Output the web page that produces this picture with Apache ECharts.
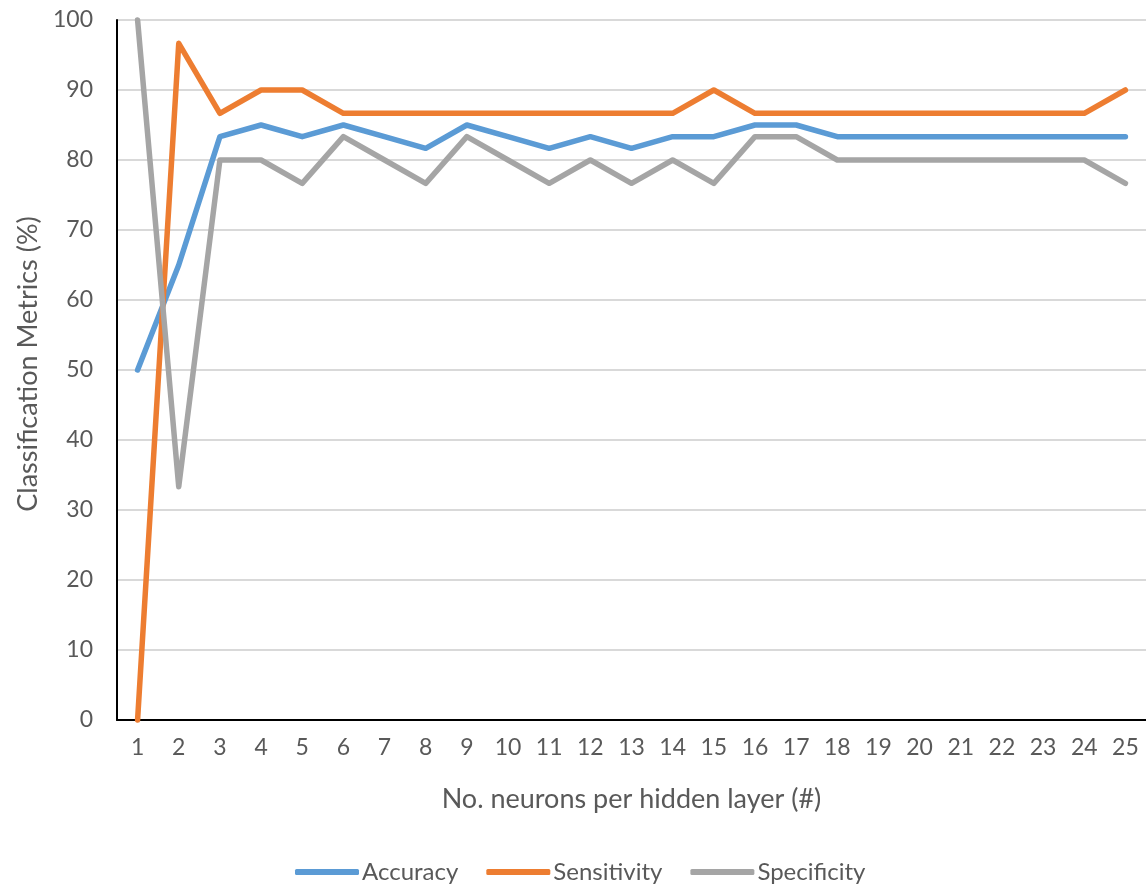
<!DOCTYPE html>
<html>
<head>
<meta charset="utf-8">
<style>
  html, body { margin: 0; padding: 0; background: #ffffff; }
  #chart { width: 1146px; height: 887px; }
</style>
<script src="https://cdn.jsdelivr.net/npm/echarts@6/dist/echarts.min.js"></script>
</head>
<body>
<div id="chart"></div>
<script>
// Neurons per hidden layer (x categories)
const neurons = ['1','2','3','4','5','6','7','8','9','10','11','12','13','14','15','16','17','18','19','20','21','22','23','24','25'];

// Classification metrics in percent
const accuracy    = [50, 65, 83.33, 85, 83.33, 85, 83.33, 81.67, 85, 83.33, 81.67, 83.33, 81.67, 83.33, 83.33, 85, 85, 83.33, 83.33, 83.33, 83.33, 83.33, 83.33, 83.33, 83.33];
const sensitivity = [0, 96.67, 86.67, 90, 90, 86.67, 86.67, 86.67, 86.67, 86.67, 86.67, 86.67, 86.67, 86.67, 90, 86.67, 86.67, 86.67, 86.67, 86.67, 86.67, 86.67, 86.67, 86.67, 90];
const specificity = [100, 33.33, 80, 80, 76.67, 83.33, 80, 76.67, 83.33, 80, 76.67, 80, 76.67, 80, 76.67, 83.33, 83.33, 80, 80, 80, 80, 80, 80, 80, 76.67];

const yTicks = { min: 0, max: 100, interval: 10 };

const FONT = 'Lato';
const TEXT = '#595959';

function lineSeries(name, data, color) {
  return {
    name: name,
    type: 'line',
    data: data,
    symbol: 'none',
    showSymbol: false,
    clip: false,
    lineStyle: { width: 5.5, color: color, cap: 'round', join: 'round' },
    itemStyle: { color: color }
  };
}

const chart = echarts.init(document.getElementById('chart'), null, { renderer: 'canvas' });
chart.setOption({
  animation: false,
  backgroundColor: '#ffffff',
  grid: { left: 117, right: -6, top: 20, bottom: 167, containLabel: false },
  legend: {
    top: 855,
    left: 290,
    itemWidth: 64,
    itemHeight: 6,
    itemGap: 28,
    icon: 'roundRect',
    textStyle: { fontFamily: FONT, fontSize: 24, color: TEXT, padding: [0, 0, 0, -2] },
    data: ['Accuracy', 'Sensitivity', 'Specificity']
  },
  xAxis: {
    type: 'category',
    data: neurons,
    boundaryGap: true,
    name: 'No. neurons per hidden layer (#)',
    nameLocation: 'middle',
    nameGap: 66,
    nameTextStyle: { fontFamily: FONT, fontSize: 27, color: TEXT },
    axisLine: { show: true, lineStyle: { color: '#000000', width: 2 } },
    axisTick: { show: false },
    axisLabel: { fontFamily: FONT, fontSize: 23, color: TEXT, margin: 16, interval: 0 },
    splitLine: { show: false }
  },
  yAxis: {
    type: 'value',
    min: yTicks.min,
    max: yTicks.max,
    interval: yTicks.interval,
    name: 'Classification Metrics (%)',
    nameLocation: 'middle',
    nameGap: 73,
    nameTextStyle: { fontFamily: FONT, fontSize: 27, color: TEXT, padding: [0, 0, 0, 12] },
    axisLine: { show: true, lineStyle: { color: '#000000', width: 2 } },
    axisTick: { show: false },
    axisLabel: { fontFamily: FONT, fontSize: 23, color: TEXT, margin: 24 },
    splitLine: { show: true, lineStyle: { color: '#D9D9D9', width: 2 } }
  },
  series: [
    lineSeries('Accuracy', accuracy, '#5B9BD5'),
    lineSeries('Sensitivity', sensitivity, '#ED7D31'),
    lineSeries('Specificity', specificity, '#A5A5A5')
  ]
});
</script>
</body>
</html>
